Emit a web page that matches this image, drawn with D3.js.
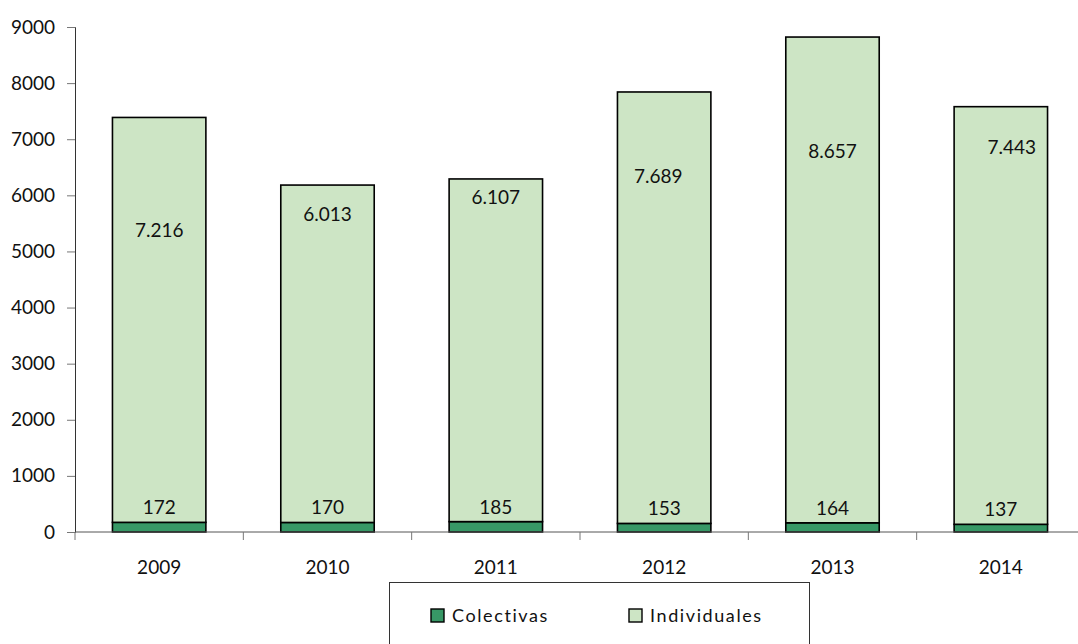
<!DOCTYPE html>
<html>
<head>
<meta charset="utf-8">
<script src="https://cdn.jsdelivr.net/npm/d3@7"></script>
<style>
  body { margin: 0; background: #fff; }
  svg { display: block; font-family: Lato, "Open Sans", sans-serif; }
</style>
</head>
<body>
<svg id="chart" width="1078" height="644"></svg>
<script>
// datos
const years = ["2009", "2010", "2011", "2012", "2013", "2014"];
const colectivas = [172, 170, 185, 153, 164, 137];
const individuales = [7216, 6013, 6107, 7689, 8657, 7443];
const yTicks = [0, 1000, 2000, 3000, 4000, 5000, 6000, 7000, 8000, 9000];
const seriesNames = ["Colectivas", "Individuales"];
// where the big labels were left (in chart units) and a small sideways nudge
const labelLevel = [5380, 5670, 5970, 6330, 6790, 6860];
const labelNudge = [0, 0, 0, -6, 0, 11];

const colors = ["#379866", "#cde5c5"];

const svg = d3.select("#chart");
const mLeft = 75, mRight = 1085, mTop = 27, mBottom = 532;

const x = d3.scaleBand().domain(years).range([mLeft, mRight]).padding(0);
const y = d3.scaleLinear().domain([0, 9000]).range([mBottom, mTop]);
const barW = x.bandwidth() * 0.555;

const rows = years.map((yr, i) => ({ year: yr, Colectivas: colectivas[i], Individuales: individuales[i] }));
const stacked = d3.stack().keys(seriesNames)(rows);

// barras
stacked.forEach((serie, k) => {
  svg.append("g").selectAll("rect")
    .data(serie)
    .join("rect")
    .attr("x", d => x(d.data.year) + x.bandwidth() / 2 - barW / 2)
    .attr("y", d => y(d[1]))
    .attr("width", barW)
    .attr("height", d => y(d[0]) - y(d[1]))
    .attr("fill", colors[k])
    .attr("stroke", "#000")
    .attr("stroke-width", 1.6);
});

// etiquetas
const fmt = d3.formatLocale({ decimal: ",", thousands: ".", grouping: [3], currency: ["", ""] }).format(",d");

svg.append("g").selectAll("text")
  .data(years)
  .join("text")
  .attr("x", (d, i) => x(d) + x.bandwidth() / 2 + labelNudge[i])
  .attr("y", (d, i) => y(labelLevel[i]))
  .attr("dy", "0.35em")
  .attr("text-anchor", "middle")
  .attr("font-size", 19)
  .attr("fill", "#111")
  .text((d, i) => fmt(individuales[i]));

svg.append("g").selectAll("text")
  .data(years)
  .join("text")
  .attr("x", d => x(d) + x.bandwidth() / 2)
  .attr("y", (d, i) => y(colectivas[i]) - 8)
  .attr("text-anchor", "middle")
  .attr("font-size", 19)
  .attr("fill", "#111")
  .text((d, i) => colectivas[i]);

// eje y
const yAxis = svg.append("g")
  .attr("transform", `translate(${mLeft},0)`)
  .call(d3.axisLeft(y).tickValues(yTicks).tickFormat(d3.format("d")).tickSize(8).tickPadding(12));
yAxis.select(".domain").attr("stroke", "#333");
yAxis.selectAll(".tick line").attr("stroke", "#777");
yAxis.selectAll("text").attr("font-size", 19).attr("fill", "#111").attr("font-family", "Lato, sans-serif");

// eje x
svg.append("line")
  .attr("x1", mLeft).attr("x2", mRight)
  .attr("y1", mBottom).attr("y2", mBottom)
  .attr("stroke", "#555");
svg.append("g").selectAll("line")
  .data(years.concat(["end"]))
  .join("line")
  .attr("x1", (d, i) => mLeft + i * x.step())
  .attr("x2", (d, i) => mLeft + i * x.step())
  .attr("y1", mBottom).attr("y2", mBottom + 8)
  .attr("stroke", "#777");
svg.append("g").selectAll("text")
  .data(years)
  .join("text")
  .attr("x", d => x(d) + x.bandwidth() / 2)
  .attr("y", 567)
  .attr("dy", "0.35em")
  .attr("text-anchor", "middle")
  .attr("font-size", 19)
  .attr("fill", "#111")
  .text(d => d);

// leyenda
const leg = svg.append("g");
leg.append("rect")
  .attr("x", 389.5).attr("y", 582.5)
  .attr("width", 420).attr("height", 80)
  .attr("fill", "#fff").attr("stroke", "#333");
const legX = [431, 629];
seriesNames.forEach((name, k) => {
  leg.append("rect")
    .attr("x", legX[k]).attr("y", 609)
    .attr("width", 13).attr("height", 13)
    .attr("fill", colors[k]).attr("stroke", "#000").attr("stroke-width", 1.4);
  leg.append("text")
    .attr("x", legX[k] + 21).attr("y", 616)
    .attr("dy", "0.35em")
    .attr("font-size", 18)
    .attr("letter-spacing", 1.6)
    .attr("fill", "#111")
    .text(name);
});
</script>
</body>
</html>
